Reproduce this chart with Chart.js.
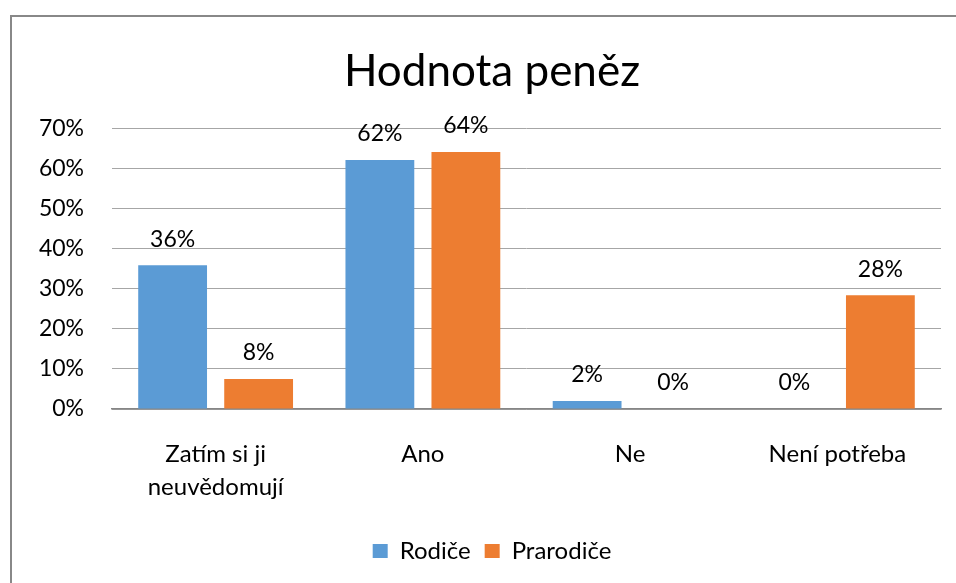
<!DOCTYPE html>
<html lang="cs">
<head>
<meta charset="utf-8">
<title>Hodnota peněz</title>
<script src="https://cdn.jsdelivr.net/npm/chart.js@4"></script>
<style>
  html, body { margin: 0; padding: 0; background: #fff; overflow: hidden; }
  #frame {
    position: absolute;
    left: 10px;
    top: 15px;
    width: 962px;
    height: 600px;
    border: 2px solid #888;
    box-sizing: border-box;
  }
  #chartBox { position: absolute; left: 0; top: 0; width: 960px; height: 566px; }
</style>
</head>
<body>
<div id="frame">
  <div id="chartBox"><canvas id="chart"></canvas></div>
</div>
<script>
"use strict";

// Chart data (percent)
const chartTitle = "Hodnota peněz";
const categories = [["Zatím si ji", "neuvědomují"], "Ano", "Ne", "Není potřeba"];
const seriesNames = ["Rodiče", "Prarodiče"];
const rodiceValues = [35.9, 62.2, 2.0, 0];
const prarodiceValues = [7.5, 64.2, 0, 28.4];
const yTicks = [0, 10, 20, 30, 40, 50, 60, 70];

const FONT = "Lato, 'Open Sans', sans-serif";

// Draw value labels above each bar
const valueLabels = {
  id: "valueLabels",
  afterDatasetsDraw(chart) {
    const ctx = chart.ctx;
    ctx.save();
    ctx.font = "23px " + FONT;
    ctx.fillStyle = "#000";
    ctx.textAlign = "center";
    ctx.textBaseline = "middle";
    chart.data.datasets.forEach((ds, i) => {
      const meta = chart.getDatasetMeta(i);
      meta.data.forEach((bar, j) => {
        ctx.fillText(Math.round(ds.data[j]) + "%", bar.x, bar.y - 26);
      });
    });
    ctx.restore();
  },
};

new Chart(document.getElementById("chart").getContext("2d"), {
  type: "bar",
  data: {
    labels: categories,
    datasets: [
      {
        label: seriesNames[0],
        data: rodiceValues,
        backgroundColor: "#5B9BD5",
        categoryPercentage: 0.83,
        barPercentage: 0.8,
      },
      {
        label: seriesNames[1],
        data: prarodiceValues,
        backgroundColor: "#ED7D31",
        categoryPercentage: 0.83,
        barPercentage: 0.8,
      },
    ],
  },
  options: {
    responsive: true,
    maintainAspectRatio: false,
    animation: false,
    layout: { padding: { left: 0, right: 0, top: 0, bottom: 10 } },
    plugins: {
      title: {
        display: true,
        text: chartTitle,
        color: "#000",
        font: { family: FONT, size: 44, weight: "normal" },
        padding: { top: 28, bottom: 31 },
      },
      legend: {
        position: "bottom",
        labels: {
          color: "#000",
          font: { family: FONT, size: 24 },
          boxWidth: 15,
          boxHeight: 14,
          padding: 14,
        },
      },
      tooltip: { enabled: false },
    },
    scales: {
      x: {
        grid: { display: false },
        border: { color: "#868686", width: 1.5 },
        ticks: {
          color: "#000",
          font: { family: FONT, size: 24, lineHeight: 1.4 },
          padding: 20,
          maxRotation: 0,
        },
        afterFit(scale) { scale.height = 116; },
      },
      y: {
        min: 0,
        max: 70,
        border: { display: false },
        grid: { color: "#A6A6A6", drawTicks: false },
        afterBuildTicks(scale) { scale.ticks = yTicks.map((v) => ({ value: v })); },
        afterFit(scale) { scale.width = 100; },
        ticks: {
          color: "#000",
          font: { family: FONT, size: 23 },
          padding: 28,
          callback: (v) => v + "%",
        },
      },
      // empty right-hand axis: keeps the plot clear of the right edge
      yRight: {
        position: "right",
        min: 0,
        max: 70,
        grid: { display: false },
        border: { display: false },
        ticks: { display: false },
        afterFit(scale) { scale.width = 31; },
      },
    },
  },
  plugins: [valueLabels],
});
</script>
</body>
</html>
